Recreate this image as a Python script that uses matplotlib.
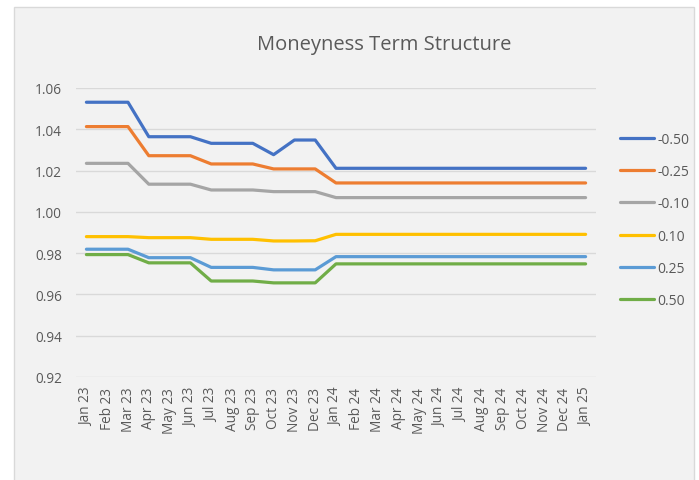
import matplotlib.pyplot as plt
from matplotlib.patches import Rectangle

plt.rcParams['font.family'] = ['Open Sans', 'DejaVu Sans']

# month labels
months = ['Jan 23', 'Feb 23', 'Mar 23', 'Apr 23', 'May 23', 'Jun 23', 'Jul 23',
          'Aug 23', 'Sep 23', 'Oct 23', 'Nov 23', 'Dec 23', 'Jan 24', 'Feb 24',
          'Mar 24', 'Apr 24', 'May 24', 'Jun 24', 'Jul 24', 'Aug 24', 'Sep 24',
          'Oct 24', 'Nov 24', 'Dec 24', 'Jan 25']

# series (moneyness per tenor)
m_050n = [1.0531, 1.0531, 1.0531, 1.0364, 1.0364, 1.0364, 1.0332, 1.0332, 1.0332,
          1.0277, 1.0348, 1.0348] + [1.0211] * 13
m_025n = [1.0413, 1.0413, 1.0413, 1.0272, 1.0272, 1.0272, 1.0232, 1.0232, 1.0232,
          1.0208, 1.0208, 1.0208] + [1.0140] * 13
m_010n = [1.0235, 1.0235, 1.0235, 1.0134, 1.0134, 1.0134, 1.0106, 1.0106, 1.0106,
          1.0098, 1.0098, 1.0098] + [1.0069] * 13
m_010 = [0.9880, 0.9880, 0.9880, 0.9875, 0.9875, 0.9875, 0.9867, 0.9867, 0.9867,
         0.9859, 0.9859, 0.9860] + [0.9891] * 13
m_025 = [0.9819, 0.9819, 0.9819, 0.9778, 0.9778, 0.9778, 0.9731, 0.9731, 0.9731,
         0.9719, 0.9719, 0.9719] + [0.9783] * 13
m_050 = [0.9793, 0.9793, 0.9793, 0.9753, 0.9753, 0.9753, 0.9665, 0.9665, 0.9665,
         0.9656, 0.9656, 0.9656] + [0.9748] * 13

labels = ['-0.50', '-0.25', '-0.10', '0.10', '0.25', '0.50']
series = [m_050n, m_025n, m_010n, m_010, m_025, m_050]
colours = ['#4472C4', '#ED7D31', '#A5A5A5', '#FFC000', '#5B9BD5', '#70AD47']

txt = '#595959'

fig = plt.figure(figsize=(6.99, 4.81), dpi=100, facecolor='white')
# chart area box, kept behind the axes
fig.patches.append(Rectangle((14 / 699, -0.01), 680 / 699, 1 - 8 / 481 + 0.01,
                             transform=fig.transFigure, facecolor='#F2F2F2',
                             edgecolor='#D9D9D9', linewidth=1, zorder=-10))

ax = fig.add_axes([76 / 699, 1 - 378 / 481, 520 / 699, 289 / 481])
ax.set_facecolor('none')

x = range(len(months))
for ys, lab, c in zip(series, labels, colours):
    ax.plot(x, ys, color=c, linewidth=2.3, label=lab, solid_capstyle='round')

ax.set_xlim(-0.5, len(months) - 0.5)
ax.set_ylim(0.92, 1.06)
ax.set_yticks([0.92, 0.94, 0.96, 0.98, 1.00, 1.02, 1.04, 1.06])
ax.set_yticklabels(['%.2f' % v for v in ax.get_yticks()])
ax.set_xticks(list(x))
ax.set_xticklabels(months, rotation=90)
ax.tick_params(length=0, colors=txt, labelsize=9.8)
ax.tick_params(axis='y', pad=10)
ax.tick_params(axis='x', pad=7)
ax.grid(axis='y', color='#D9D9D9', linewidth=1)
ax.set_axisbelow(True)
for s in ax.spines.values():
    s.set_visible(False)

fig.text(384 / 699, 1 - 45 / 481, 'Moneyness Term Structure', ha='center',
         va='center', fontsize=14.5, color=txt)

leg = ax.legend(loc='upper left', bbox_to_anchor=(607 / 699, 1 - 120 / 481),
                bbox_transform=fig.transFigure, frameon=False, fontsize=10,
                handlelength=2.5, handletextpad=0.2, labelspacing=1.25)
for t in leg.get_texts():
    t.set_color(txt)

fig.savefig('out.png', dpi=100)
